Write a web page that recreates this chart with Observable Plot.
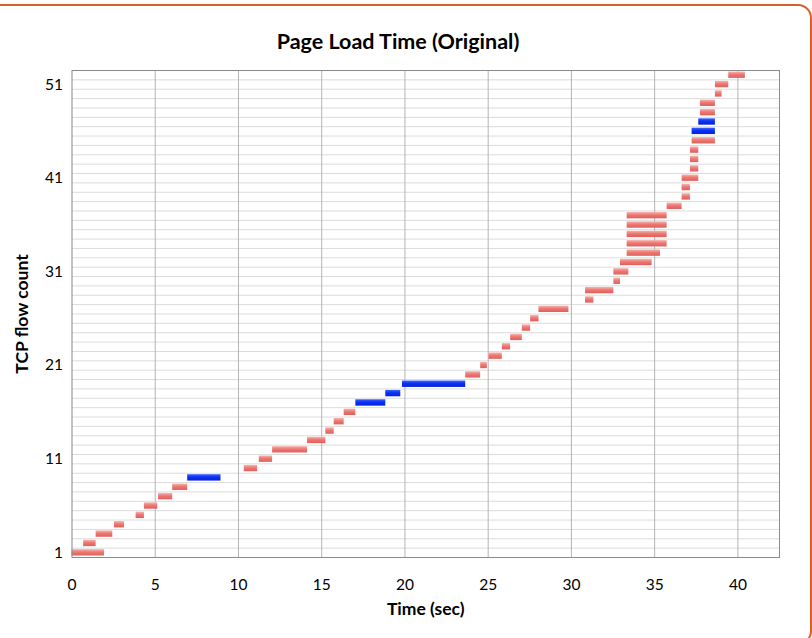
<!DOCTYPE html>
<html>
<head>
<meta charset="utf-8">
<script src="https://cdn.jsdelivr.net/npm/d3@7"></script>
<script src="https://cdn.jsdelivr.net/npm/@observablehq/plot@0.6"></script>
<style>
  html, body { margin: 0; padding: 0; background: #fff; overflow: hidden; }
  #card { position: absolute; left: -30px; top: 4px; width: 842px; height: 641px;
          border: 2px solid #d8602a; border-radius: 14px; box-sizing: border-box; pointer-events: none; }
  #title { position: absolute; left: 0; top: 28px; width: 796px; height: 24px; text-align: center;
           line-height: 24px; font: bold 21.5px Lato, "Open Sans", sans-serif; color: #000; white-space: nowrap; }
  #chart { position: absolute; left: 0; top: 58px; }
</style>
</head>
<body>
<div id="card"></div>
<div id="title">Page Load Time (Original)</div>
<div id="chart"></div>
<script>
// ---- data ----
const flowIds = [1,2,3,4,5,6,7,8,9,10,11,12,13,14,15,16,17,18,19,20,21,22,23,24,25,26,
                 27,28,29,30,31,32,33,34,35,36,37,38,39,40,41,42,43,44,45,46,47,48,49,50,51,52];
const startTimes = [0, 0.7, 1.45, 2.55, 3.85, 4.35, 5.2, 6.05, 6.95, 10.35, 11.25, 12.05, 14.15,
                    15.25, 15.75, 16.35, 17.05, 18.85, 19.85, 23.65, 24.55, 25.05, 25.85, 26.35,
                    27.05, 27.55, 28.05, 30.85, 30.85, 32.55, 32.55, 32.95, 33.35, 33.35, 33.35,
                    33.35, 33.35, 35.75, 36.65, 36.65, 36.65, 37.15, 37.15, 37.15, 37.25, 37.25,
                    37.65, 37.75, 37.75, 38.65, 38.65, 39.45];
const endTimes = [1.95, 1.45, 2.45, 3.15, 4.35, 5.15, 6.05, 6.95, 8.95, 11.15, 12.05, 14.15, 15.25,
                  15.75, 16.35, 17.05, 18.85, 19.75, 23.65, 24.55, 24.95, 25.85, 26.35, 27.05,
                  27.55, 28.05, 29.85, 31.35, 32.55, 32.95, 33.45, 34.85, 35.35, 35.75, 35.75,
                  35.75, 35.75, 36.65, 37.15, 37.15, 37.65, 37.65, 37.65, 37.65, 38.65, 38.65,
                  38.65, 38.65, 38.65, 39.05, 39.45, 40.45];
const blueFlows = [9, 17, 18, 19, 46, 47];
const xTicks = [0, 5, 10, 15, 20, 25, 30, 35, 40];
const yTicks = [1, 11, 21, 31, 41, 51];
const xLabel = "Time (sec)";
const yLabel = "TCP flow count";

const rows = flowIds.map((f, i) => ({flow: f, start: startTimes[i], end: endTimes[i], blue: blueFlows.includes(f)}));
const redRows = rows.filter(d => !d.blue);
const blueRows = rows.filter(d => d.blue);
const rowBoundaries = flowIds.slice(0, -1).map(f => f + 0.5);
const halfH = 0.34;

const svg = Plot.plot({
  width: 812,
  height: 580,
  marginTop: 12,
  marginBottom: 81,
  marginLeft: 71.5,
  marginRight: 33,
  style: {fontFamily: "Lato, 'Open Sans', sans-serif", fontSize: "15.5px", color: "#000", background: "transparent"},
  x: {domain: [0, 42.5], ticks: xTicks, tickSize: 0, tickPadding: 21, label: null},
  y: {domain: [0.5, 52.5], ticks: yTicks, tickSize: 0, tickPadding: 9, label: null},
  marks: [
    Plot.ruleY(rowBoundaries, {stroke: "#dcdcdc", strokeWidth: 1}),
    Plot.ruleX(xTicks.filter(t => t > 0), {stroke: "#b4b4b4", strokeWidth: 1}),
    Plot.rectX(redRows, {x1: "start", x2: "end", y1: d => d.flow - halfH, y2: d => d.flow + halfH,
                         fill: "url(#gRed)"}),
    Plot.rectX(blueRows, {x1: "start", x2: "end", y1: d => d.flow - halfH, y2: d => d.flow + halfH,
                          fill: "url(#gBlue)"}),
    Plot.frame({stroke: "#8a8a8a"}),
    Plot.text([xLabel], {frameAnchor: "bottom", dy: 52, textAnchor: "middle", lineAnchor: "middle",
                         fontWeight: "bold", fontSize: 17.5}),
    Plot.text([yLabel], {frameAnchor: "left", dx: -49.5, rotate: -90, textAnchor: "middle", lineAnchor: "middle",
                         fontWeight: "bold", fontSize: 17.5})
  ]
});

svg.insertAdjacentHTML("afterbegin", `
<defs>
  <linearGradient id="gRed" x1="0" y1="0" x2="0" y2="1">
    <stop offset="0" stop-color="#f6b6b3"/>
    <stop offset="0.45" stop-color="#ee7873"/>
    <stop offset="1" stop-color="#de5f5a"/>
  </linearGradient>
  <linearGradient id="gBlue" x1="0" y1="0" x2="0" y2="1">
    <stop offset="0" stop-color="#3e62ff"/>
    <stop offset="0.45" stop-color="#0a30f6"/>
    <stop offset="1" stop-color="#0524d6"/>
  </linearGradient>
</defs>`);

document.getElementById("chart").appendChild(svg);
</script>
</body>
</html>
